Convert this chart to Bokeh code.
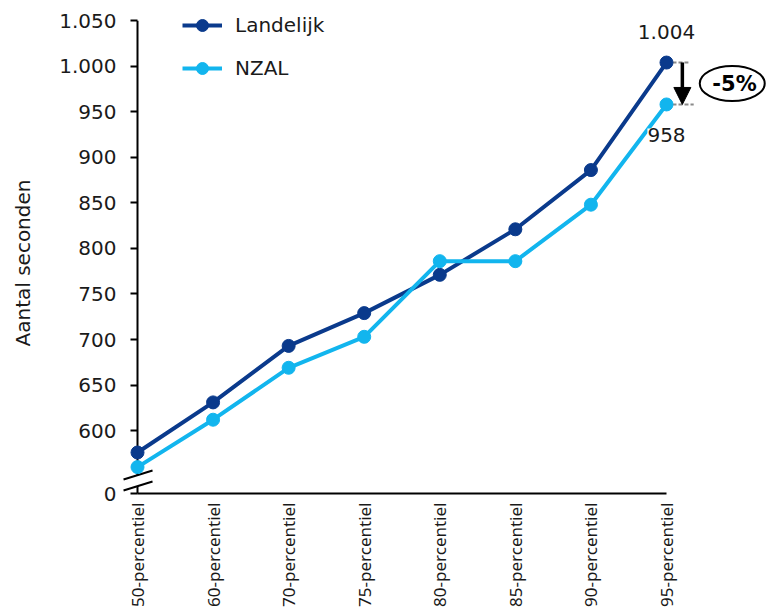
import math
from bokeh.plotting import figure
from bokeh.models import (Range1d, FixedTicker, Legend, LegendItem, Label, Arrow,
                          NormalHead, LinearAxis)
from bokeh.embed import file_html
from bokeh.resources import INLINE

# ---- data ----
categories = ["50-percentiel", "60-percentiel", "70-percentiel", "75-percentiel",
              "80-percentiel", "85-percentiel", "90-percentiel", "95-percentiel"]
landelijk = [576, 631, 693, 729, 771, 821, 886, 1004]
nzal = [560, 612, 669, 703, 786, 786, 848, 958]
series_names = ["Landelijk", "NZAL"]
y_ticks = [531, 600, 650, 700, 750, 800, 850, 900, 950, 1000, 1050]
y_tick_labels = ["0", "600", "650", "700", "750", "800", "850", "900", "950", "1.000", "1.050"]
y_axis_title = "Aantal seconden"
Y_ZERO = y_ticks[0]   # position of the broken-axis "0"

DARK = "#0a3a8c"
LIGHT = "#12b5ee"
TXT = "#1a1a1a"

def nl(v):
    return f"{v:,}".replace(",", ".")

xs = list(range(len(categories)))

p = figure(width=771, height=609, output_backend="svg", toolbar_location=None,
           x_range=Range1d(-1.8129, 8.3896), y_range=Range1d(403.7, 1072.1),
           x_axis_type=None, y_axis_type=None,
           min_border_left=0, min_border_right=0, min_border_top=0, min_border_bottom=0)
p.outline_line_color = None
p.background_fill_color = "white"

# x axis (at the broken-axis zero)
xaxis = LinearAxis(ticker=FixedTicker(ticks=xs),
                   major_label_overrides={i: c for i, c in enumerate(categories)},
                   bounds=(0, len(categories) - 1), fixed_location=Y_ZERO)
xaxis.axis_line_width = 2
xaxis.axis_line_color = "black"
xaxis.major_tick_line_color = None
xaxis.minor_tick_line_color = None
xaxis.major_label_orientation = math.pi / 2
xaxis.major_label_standoff = 3
xaxis.major_label_text_font = "Noto Sans"
xaxis.major_label_text_font_size = "17px"
xaxis.major_label_text_color = TXT
p.add_layout(xaxis, "below")

# y axis (at the first category)
yaxis = LinearAxis(ticker=FixedTicker(ticks=y_ticks),
                   major_label_overrides=dict(zip(y_ticks, y_tick_labels)),
                   fixed_location=0)
yaxis.axis_line_color = None
yaxis.major_tick_out = 7
yaxis.major_tick_in = 0
yaxis.major_tick_line_width = 2
yaxis.major_tick_line_color = "black"
yaxis.minor_tick_line_color = None
yaxis.major_label_standoff = 14
yaxis.major_label_text_font = "DejaVu Sans"
yaxis.major_label_text_font_size = "20px"
yaxis.major_label_text_color = TXT
p.add_layout(yaxis, "left")

# broken y-axis line and break marks
p.segment(x0=[0, 0], y0=[Y_ZERO, 551], x1=[0, 0], y1=[539, 1050], line_color="black", line_width=2)
p.segment(x0=[-0.185, -0.185], y0=[546.4, 534.3], x1=[0.199, 0.199], y1=[556.2, 544.2],
          line_color="black", line_width=2)

p.add_layout(Label(x=-1.52, y=784, text=y_axis_title, angle=math.pi / 2,
                   text_align="center", text_baseline="middle",
                   text_font="DejaVu Sans", text_font_size="20px", text_color=TXT))

# dashed reference lines at last points
last = len(categories) - 1
p.segment(x0=[last, last], y0=[landelijk[-1], nzal[-1]], x1=[last + 0.29, last + 0.36],
          y1=[landelijk[-1], nzal[-1]], line_color="#8a8a8a", line_dash="4 2", line_width=2)

l1 = p.line(xs, landelijk, line_color=DARK, line_width=4)
s1 = p.scatter(xs, landelijk, size=13, fill_color=DARK, line_color=DARK)
l2 = p.line(xs, nzal, line_color=LIGHT, line_width=4)
s2 = p.scatter(xs, nzal, size=13, fill_color=LIGHT, line_color=LIGHT)

legend = Legend(items=[LegendItem(label=series_names[0], renderers=[l1, s1]),
                       LegendItem(label=series_names[1], renderers=[l2, s2])],
                location=(182, 526), orientation="vertical",
                glyph_width=40, glyph_height=30, label_height=30, spacing=13,
                padding=0, margin=0, label_standoff=13,
                border_line_color=None, background_fill_alpha=0,
                label_text_font="DejaVu Sans", label_text_font_size="20px",
                label_text_color=TXT)
p.add_layout(legend)

# value labels
p.add_layout(Label(x=last, y=landelijk[-1], text=nl(landelijk[-1]), text_align="center",
                   text_baseline="alphabetic", y_offset=31,
                   text_font="DejaVu Sans", text_font_size="20px", text_color=TXT))
p.add_layout(Label(x=last, y=nzal[-1], text=nl(nzal[-1]), text_align="center",
                   text_baseline="top", y_offset=-24, background_fill_color="white",
                   text_font="DejaVu Sans", text_font_size="20px", text_color=TXT))

# arrow
p.add_layout(Arrow(x_start=last + 0.21, y_start=landelijk[-1], x_end=last + 0.21, y_end=nzal[-1],
                   line_color="black", line_width=3.5,
                   end=NormalHead(size=17, fill_color="black", line_color="black")))

# ellipse with percentage
pct = round((nzal[-1] - landelijk[-1]) / landelijk[-1] * 100)
p.ellipse(x=[7.87], y=[981], width=0.86, height=38.4, fill_color="white",
          line_color="black", line_width=2)
p.add_layout(Label(x=7.9, y=981, text=f"{pct}%", text_align="center", text_baseline="middle",
                   text_font="DejaVu Sans", text_font_size="21px", text_font_style="bold",
                   text_color="black"))

open("out.html", "w").write(file_html(p, INLINE))
